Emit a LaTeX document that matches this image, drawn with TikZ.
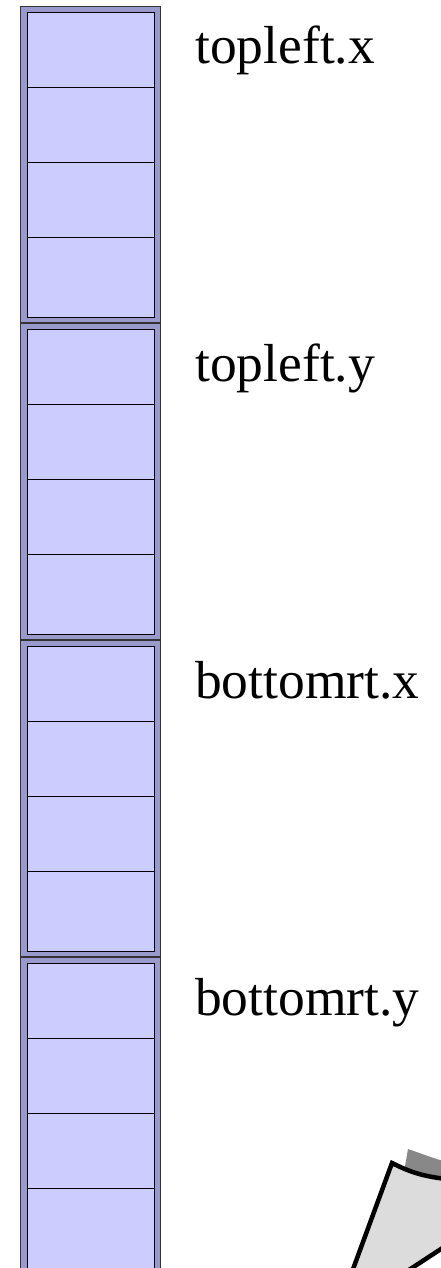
\documentclass[tikz,border=0pt]{standalone}
\usepackage{fontspec}
\setmainfont{Liberation Serif}
\begin{document}
\definecolor{framefill}{HTML}{9999CC}
\definecolor{cellfill}{HTML}{CCCCFF}
\definecolor{paperlight}{HTML}{DCDCDC}
\definecolor{paperdark}{HTML}{888888}
\begin{tikzpicture}[x=1pt,y=-1pt,
  framebox/.style={draw=black!80,line width=1.3pt,fill=framefill,rectangle,
    anchor=north west,inner sep=0pt,minimum width=140pt,minimum height=316pt},
  cellbox/.style={draw=black,line width=0.9pt,fill=cellfill,rectangle,
    anchor=north west,inner sep=0pt,minimum width=127pt},
  fieldlabel/.style={anchor=base west,inner sep=0pt,font=\fontsize{53.5}{62}\selectfont}]
\useasboundingbox (0,0) rectangle (441,1268);
\clip (0,0) rectangle (441,1268);
\fill[white] (0,0) rectangle (441,1268);
% four 4-byte fields, each a framed stack of cells
\foreach \g/\lab in {0/topleft.x,1/topleft.y,2/bottomrt.x,3/bottomrt.y}{
  \pgfmathsetmacro{\oy}{6+317*\g}
  \node[framebox] (frame\g) at (20,\oy) {};
  \foreach \c in {0,1,2}{
    \pgfmathsetmacro{\cy}{\oy+6+75*\c}
    \node[cellbox,minimum height=75pt] (cell\g\c) at (27,\cy) {};
  }
  \pgfmathsetmacro{\cy}{\oy+231}
  \node[cellbox,minimum height=80pt] (cell\g3) at (27,\cy) {};
  \pgfmathsetmacro{\by}{64+317*\g}
  \node[fieldlabel] (label\g) at (195,\by) {\lab};
}
% curled sheet in the corner
\fill[paperdark] (404,1172) -- (408,1149) .. controls (420,1153) and (432,1158) .. (450,1163) -- (470,1200) -- cycle;
\draw[line width=4.5pt,fill=paperlight,line join=miter]
  (338,1310) -- (392,1163) .. controls (410,1172) and (425,1178) .. (460,1180)
  -- (470,1230) -- (363,1300) -- cycle;
\end{tikzpicture}
\end{document}
